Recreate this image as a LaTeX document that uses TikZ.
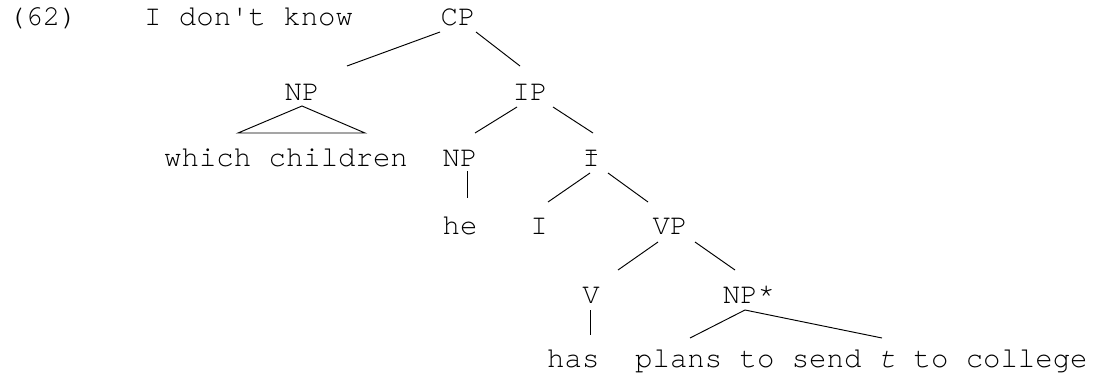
\documentclass[tikz,border=0pt]{standalone}
\usepackage{fontspec}
\setmainfont{TeX Gyre Cursor}
\usetikzlibrary{calc}
\begin{document}
\begin{tikzpicture}[x=1pt,y=-1pt,
  lbl/.style={inner sep=0pt,font=\fontsize{29}{32}\selectfont},
  branch/.style={line width=0.95pt,black}]
\useasboundingbox (0,0) rectangle (1097,375);
% row 1
\node[lbl,anchor=base west] (ex) at (8,25) {(62)};
\node[lbl,anchor=base west] (know) at (144,25) {I don\textquotesingle t know};
\node[lbl,anchor=base] (cp) at (458,25) {CP};
% row 2
\node[lbl,anchor=base] (np1) at (302,100) {NP};
\node[lbl,anchor=base] (ip) at (530,100) {IP};
% row 3
\node[lbl,anchor=base] (wc) at (286,166) {which children};
\node[lbl,anchor=base] (np2) at (460,166) {NP};
\node[lbl,anchor=base] (ibar) at (591,166) {I};
% row 4
\node[lbl,anchor=base] (he) at (460,234) {he};
\node[lbl,anchor=base] (infl) at (539,234) {I};
\node[lbl,anchor=base] (vp) at (670,234) {VP};
% row 5
\node[lbl,anchor=base] (v) at (591,303) {V};
\node[lbl,anchor=base] (nps) at (749,303) {NP*};
% row 6
\node[lbl,anchor=base west] (has) at (547,367) {has};
\node[lbl,anchor=base west] (plans) at (635,367) {plans to send \textit{t} to college};
% bar of I-bar
\draw[line width=1.1pt] ([shift={(-5.5,-11.5)}]ibar.base) -- ([shift={(5.5,-11.5)}]ibar.base);
% branches
\draw[branch] ([shift={(-18,7)}]cp.base) -- ([shift={(45,-34)}]np1.base);
\draw[branch] ([shift={(18,7)}]cp.base) -- ([shift={(-10,-34)}]ip.base);
\draw[branch] ([shift={(0,6)}]np1.base) -- ([shift={(-48,-33)}]wc.base) -- ([shift={(79,-33)}]wc.base) -- cycle;
\draw[branch] ([shift={(-13,7)}]ip.base) -- ([shift={(15,-33)}]np2.base);
\draw[branch] ([shift={(23,7)}]ip.base) -- ([shift={(2,-33)}]ibar.base);
\draw[branch] ([shift={(7,5)}]np2.base) -- ([shift={(7,-36)}]he.base);
\draw[branch] ([shift={(-1,7)}]ibar.base) -- ([shift={(9,-32)}]infl.base);
\draw[branch] ([shift={(17,7)}]ibar.base) -- ([shift={(-22,-32)}]vp.base);
\draw[branch] ([shift={(-12,8)}]vp.base) -- ([shift={(27,-33)}]v.base);
\draw[branch] ([shift={(25,8)}]vp.base) -- ([shift={(-14,-33)}]nps.base);
\draw[branch] ([shift={(-1,7)}]v.base) -- ([shift={(-1,32)}]v.base);
\draw[branch] ([shift={(-4,7)}]nps.base) -- ([shift={(55,-29)}]plans.base west);
\draw[branch] ([shift={(-4,7)}]nps.base) -- ([shift={(247,-29)}]plans.base west);
\end{tikzpicture}
\end{document}
